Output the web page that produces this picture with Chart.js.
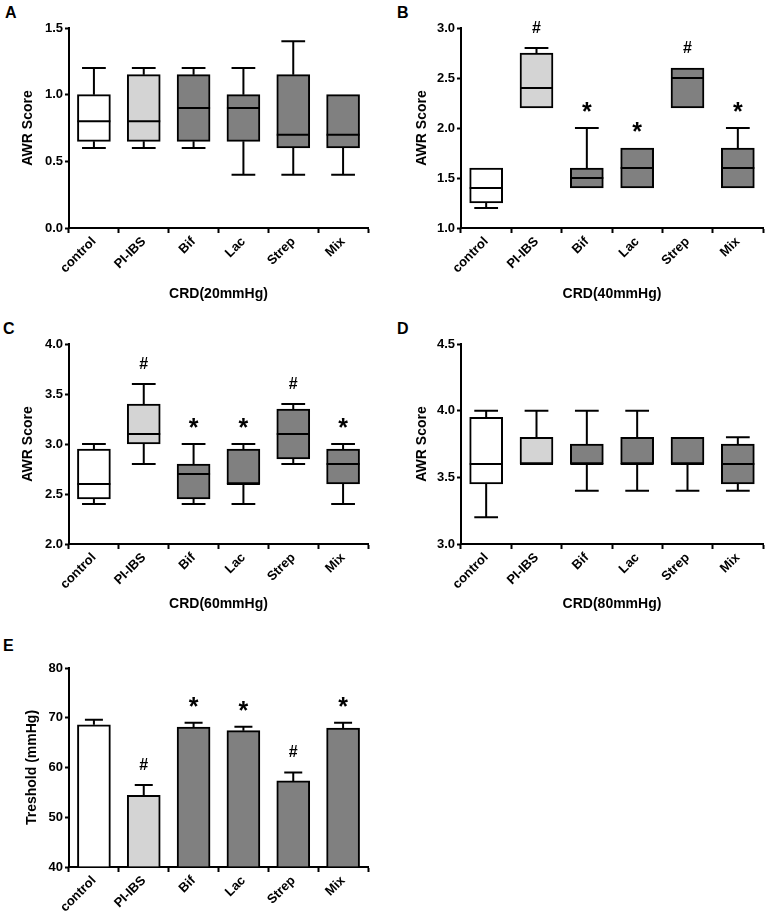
<!DOCTYPE html>
<html>
<head>
<meta charset="utf-8">
<script src="https://cdn.jsdelivr.net/npm/chart.js@4.4.1/dist/chart.umd.min.js"></script>
<style>
  body { margin: 0; background: #fff; width: 765px; height: 921px; position: relative; overflow: hidden; }
  canvas { position: absolute; }
  .lbl { position: absolute; font: bold 16px/16px "Liberation Sans", Arial, sans-serif; color: #000; }
</style>
</head>
<body>
<div class="lbl" style="left:5px;top:5px">A</div>
<div class="lbl" style="left:397px;top:5px">B</div>
<div class="lbl" style="left:3px;top:321px">C</div>
<div class="lbl" style="left:397px;top:321px">D</div>
<div class="lbl" style="left:3px;top:638px">E</div>

<canvas id="cA" width="380" height="310" style="left:0;top:0"></canvas>
<canvas id="cB" width="385" height="310" style="left:380px;top:0"></canvas>
<canvas id="cC" width="380" height="310" style="left:0;top:310px"></canvas>
<canvas id="cD" width="385" height="310" style="left:380px;top:310px"></canvas>
<canvas id="cE" width="380" height="301" style="left:0;top:620px"></canvas>

<script>
const groups = ['control', 'PI-IBS', 'Bif', 'Lac', 'Strep', 'Mix'];

// box plots: [min, q1, median, q3, max] for each group
const boxA = [[0.6, 0.65, 0.8, 1.0, 1.2], [0.6, 0.65, 0.8, 1.15, 1.2], [0.6, 0.65, 0.9, 1.15, 1.2],
              [0.4, 0.65, 0.9, 1.0, 1.2], [0.4, 0.6, 0.7, 1.15, 1.4], [0.4, 0.6, 0.7, 1.0, 1.0]];
const boxB = [[1.2, 1.25, 1.4, 1.6, 1.6], [2.2, 2.2, 2.4, 2.75, 2.8], [1.4, 1.4, 1.5, 1.6, 2.0],
              [1.4, 1.4, 1.6, 1.8, 1.8], [2.2, 2.2, 2.5, 2.6, 2.6], [1.4, 1.4, 1.6, 1.8, 2.0]];
const boxC = [[2.4, 2.45, 2.6, 2.95, 3.0], [2.8, 3.0, 3.1, 3.4, 3.6], [2.4, 2.45, 2.7, 2.8, 3.0],
              [2.4, 2.6, 2.6, 2.95, 3.0], [2.8, 2.85, 3.1, 3.35, 3.4], [2.4, 2.6, 2.8, 2.95, 3.0]];
const boxD = [[3.2, 3.45, 3.6, 3.95, 4.0], [3.6, 3.6, 3.6, 3.8, 4.0], [3.4, 3.6, 3.6, 3.75, 4.0],
              [3.4, 3.6, 3.6, 3.8, 4.0], [3.4, 3.6, 3.6, 3.8, 3.8], [3.4, 3.45, 3.6, 3.75, 3.8]];

// threshold bars: mean and SEM
const meanE = [68.6, 54.4, 68.1, 67.4, 57.3, 67.9];
const semE = [1.0, 2.1, 0.9, 0.8, 1.7, 1.1];

const marksNone = ['', '', '', '', '', ''];
const marksSig = ['', '#', '*', '*', '#', '*'];

const yTicksA = [0, 1.5, 0.5];
const yTicksB = [1.0, 3.0, 0.5];
const yTicksC = [2.0, 4.0, 0.5];
const yTicksD = [3.0, 4.5, 0.5];
const yTicksE = [40, 80, 10];

const fills = ['#ffffff', '#d4d4d4', '#808080', '#808080', '#808080', '#808080'];
const FONT = '"Liberation Sans", Arial, sans-serif';
Chart.defaults.color = '#000';
Chart.defaults.font.family = FONT;

// whiskers, medians, error bars and significance marks
const extras = {
  id: 'extras',
  afterDatasetsDraw(chart, args, o) {
    const ctx = chart.ctx, y = chart.scales.y;
    const bars = chart.getDatasetMeta(0).data;
    ctx.save();
    ctx.strokeStyle = '#000';
    ctx.lineWidth = 2;
    ctx.lineCap = 'butt';
    const tops = [];
    bars.forEach((bar, i) => {
      const cx = bar.x, hw = bar.width / 2;
      ctx.beginPath();
      if (o.box) {
        const [mn, q1, md, q3, mx] = o.box[i].map(v => y.getPixelForValue(v));
        const cap = bar.width * 0.36;
        ctx.moveTo(cx - hw, md); ctx.lineTo(cx + hw, md);
        if (mx < q3 - 0.5) {
          ctx.moveTo(cx, q3); ctx.lineTo(cx, mx);
          ctx.moveTo(cx - cap, mx); ctx.lineTo(cx + cap, mx);
        }
        if (mn > q1 + 0.5) {
          ctx.moveTo(cx, q1); ctx.lineTo(cx, mn);
          ctx.moveTo(cx - cap, mn); ctx.lineTo(cx + cap, mn);
        }
        tops.push(Math.min(mx, q3));
      } else {
        const m = y.getPixelForValue(o.mean[i]);
        const t = y.getPixelForValue(o.mean[i] + o.err[i]);
        const cap = 9;
        ctx.moveTo(cx, m); ctx.lineTo(cx, t);
        ctx.moveTo(cx - cap, t); ctx.lineTo(cx + cap, t);
        tops.push(t);
      }
      ctx.stroke();
    });
    ctx.fillStyle = '#000';
    ctx.textAlign = 'center';
    ctx.textBaseline = 'alphabetic';
    o.marks.forEach((m, i) => {
      if (!m) return;
      ctx.font = m === '*' ? 'bold 25px ' + FONT : 'bold 16px ' + FONT;
      const mt = ctx.measureText(m);
      const cy = tops[i] - 21;
      const base = cy + (mt.actualBoundingBoxAscent - mt.actualBoundingBoxDescent) / 2;
      ctx.fillText(m, bars[i].x, base);
    });
    ctx.restore();
  }
};

function panel(id, o) {
  const [ymin, ymax, step] = o.yt;
  new Chart(document.getElementById(id), {
    type: 'bar',
    data: {
      labels: groups,
      datasets: [{
        data: o.box ? o.box.map(b => [b[1], b[3]]) : o.mean,
        base: o.base,
        backgroundColor: fills,
        borderColor: '#000',
        borderWidth: 2,
        borderSkipped: o.box ? false : 'start',
        barThickness: 33
      }]
    },
    options: {
      responsive: false,
      animation: false,
      layout: { padding: { left: o.padL, top: o.top, right: o.padR, bottom: 0 } },
      plugins: {
        legend: { display: false },
        tooltip: { enabled: false },
        extras: { box: o.box, mean: o.mean, err: o.err, marks: o.marks }
      },
      scales: {
        x: {
          grid: { display: true, drawOnChartArea: false, tickLength: 5, tickColor: '#000', tickWidth: 2 },
          border: { display: true, color: '#000', width: 2 },
          ticks: { minRotation: 45, maxRotation: 45, padding: 1, font: { size: 13, weight: 'bold' } },
          title: { display: !!o.xTitle, text: o.xTitle, font: { size: 14, weight: 'bold' }, padding: { top: 0, bottom: 7 } },
          afterFit: s => { s.height = o.xh; s.paddingLeft = 0; s.paddingRight = 0; }
        },
        y: {
          min: ymin, max: ymax,
          grid: { display: true, drawOnChartArea: false, tickLength: 4, tickColor: '#000', tickWidth: 2 },
          border: { display: true, color: '#000', width: 2 },
          ticks: {
            stepSize: step, padding: 2, font: { size: 13, weight: 'bold' },
            callback: v => step < 1 ? v.toFixed(1) : v
          },
          title: { display: true, text: o.yTitle, font: { size: 14, weight: 'bold' }, padding: { top: 4, bottom: 0 } },
          afterFit: s => { s.width = o.yw; s.paddingTop = 0; s.paddingBottom = 0; }
        }
      }
    },
    plugins: [extras]
  });
}

panel('cA', { box: boxA, marks: marksNone, yt: yTicksA, xTitle: 'CRD(20mmHg)', yTitle: 'AWR Score',
              padL: 16, yw: 53, padR: 12, top: 28, xh: 82 });
panel('cB', { box: boxB, marks: marksSig, yt: yTicksB, xTitle: 'CRD(40mmHg)', yTitle: 'AWR Score',
              padL: 30, yw: 51, padR: 2, top: 28, xh: 82 });
panel('cC', { box: boxC, marks: marksSig, yt: yTicksC, xTitle: 'CRD(60mmHg)', yTitle: 'AWR Score',
              padL: 16, yw: 53, padR: 12, top: 34, xh: 76 });
panel('cD', { box: boxD, marks: marksNone, yt: yTicksD, xTitle: 'CRD(80mmHg)', yTitle: 'AWR Score',
              padL: 30, yw: 51, padR: 2, top: 34, xh: 76 });
panel('cE', { mean: meanE, err: semE, base: 40, marks: marksSig, yt: yTicksE, xTitle: '', yTitle: 'Treshold (mmHg)',
              padL: 20, yw: 49, padR: 12, top: 48, xh: 54 });
</script>
</body>
</html>
